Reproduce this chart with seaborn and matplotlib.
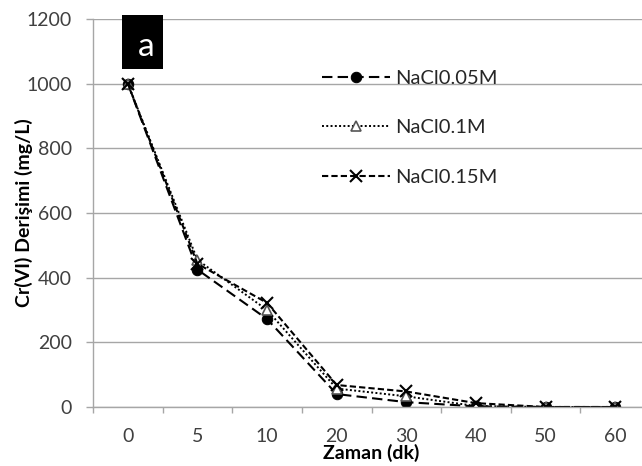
import numpy as np
import pandas as pd
import matplotlib
matplotlib.use("Agg")
import matplotlib.pyplot as plt
from matplotlib.patches import Rectangle
from matplotlib.ticker import FixedLocator
import seaborn as sns

# Sampling times (minutes) shown as evenly spaced categories
times = ["0", "5", "10", "20", "30", "40", "50", "60"]

# Cr(VI) concentration (mg/L) for each NaCl concentration
nacl_005 = [1000, 425, 272, 40, 15, 2, 0, 0]
nacl_01 = [1000, 455, 300, 57, 33, 3, 0, 0]
nacl_015 = [1000, 443, 322, 68, 48, 12, 0, 0]

series_labels = ["NaCl0.05M", "NaCl0.1M", "NaCl0.15M"]
yticks = [0, 200, 400, 600, 800, 1000, 1200]

sns.set_style("white")
plt.rcParams["font.family"] = ["Lato", "DejaVu Sans"]

W, H = 642, 466
fig = plt.figure(figsize=(W / 100, H / 100), dpi=100)
# plot area (pixel bounds converted to figure fractions)
x0, x1, y_top, y_bot = 93, 650, 19, 407
ax = fig.add_axes([x0 / W, (H - y_bot) / H, (x1 - x0) / W, (y_bot - y_top) / H])

pos = np.arange(len(times))
df = pd.DataFrame({"pos": pos, series_labels[0]: nacl_005,
                   series_labels[1]: nacl_01, series_labels[2]: nacl_015})

styles = [
    dict(linestyle=(0, (5, 2.5)), marker="o", markersize=7.5,
         markerfacecolor="black", markeredgecolor="black", linewidth=1.5),
    dict(linestyle=(0, (1, 1.2)), marker="^", markersize=7,
         markerfacecolor="white", markeredgecolor="#555555", markeredgewidth=1.2,
         linewidth=1.4),
    dict(linestyle=(0, (3, 1.5)), marker="x", markersize=8,
         markeredgecolor="black", markeredgewidth=1.5, linewidth=1.5),
]

for lab, st in zip(series_labels, styles):
    sns.lineplot(data=df, x="pos", y=lab, ax=ax, color="black", label=lab, **st)

grid_c = "#a6a6a6"
ax.set_xlim(-0.5, len(times) - 0.5)
ax.set_ylim(0, 1200)
ax.set_yticks(yticks)
ax.yaxis.grid(True, color=grid_c, linewidth=1.0)
ax.set_axisbelow(True)

ax.set_xticks(pos, times)
ax.xaxis.set_minor_locator(FixedLocator(np.arange(-0.5, len(times), 1.0)))
ax.tick_params(axis="x", which="major", length=0, pad=15, labelsize=14,
               labelcolor="#404040")
ax.tick_params(axis="x", which="minor", length=4.5, width=1, color=grid_c,
               direction="out", bottom=True)
ax.tick_params(axis="y", length=5, width=1, color=grid_c, direction="out",
               pad=10, labelsize=14, labelcolor="#404040", left=True)

for s in ["top", "right"]:
    ax.spines[s].set_visible(False)
for s in ["left", "bottom"]:
    ax.spines[s].set_color(grid_c)
    ax.spines[s].set_linewidth(1.0)

ax.set_xlabel("Zaman (dk)", fontsize=14, fontweight="bold", color="black")
ax.set_ylabel("Cr(VI) Derişimi (mg/L)", fontsize=14, fontweight="bold",
              color="black")
ax.xaxis.set_label_coords(0.5, -0.095)
ax.yaxis.set_label_coords(-0.108, 0.5)

ax.legend(loc="upper left", bbox_to_anchor=(322 / W, 1 - 70 / H),
          bbox_transform=fig.transFigure, frameon=False, handlelength=3.4,
          handletextpad=0.25, labelspacing=1.6, borderpad=0, borderaxespad=0,
          fontsize=14.5)

# panel tag
bx0, bx1, by0, by1 = 122, 163, 15, 69
fig.patches.append(Rectangle((bx0 / W, 1 - by1 / H), (bx1 - bx0) / W,
                             (by1 - by0) / H, transform=fig.transFigure,
                             facecolor="black", edgecolor="none", zorder=5))
fig.text(146 / W, 1 - 47 / H, "a", color="white", fontsize=24,
         ha="center", va="center", zorder=6)

fig.savefig("out.png", dpi=100)
